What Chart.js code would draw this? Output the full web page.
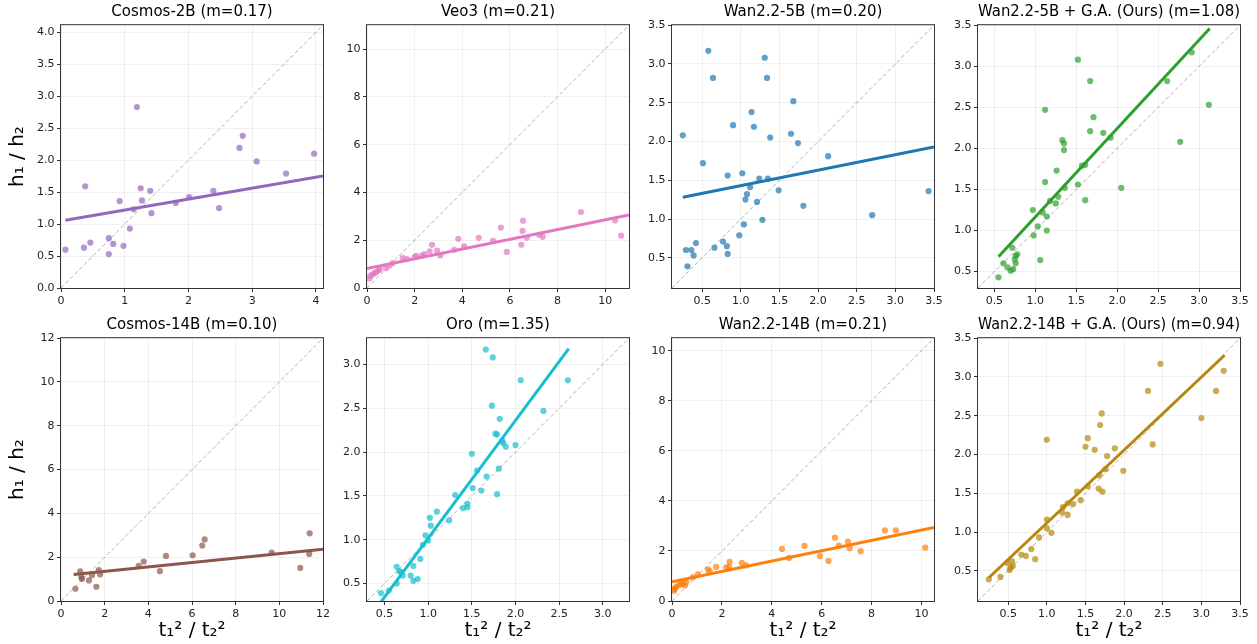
<!DOCTYPE html>
<html>
<head>
<meta charset="utf-8">
<script src="https://cdn.jsdelivr.net/npm/chart.js@4.4.0/dist/chart.umd.min.js"></script>
<style>
  body { margin: 0; background: #fff; width: 1257px; height: 644px; position: relative; overflow: hidden; }
  canvas { position: absolute; }
</style>
</head>
<body>
<script>
// ---- data: t1^2/t2^2 (x) vs h1/h2 (y) ----
const cosmos2bX = [0.07,0.36,0.38,0.46,0.75,0.75,0.82,0.92,0.98,1.08,1.14,1.19,1.25,1.27,1.40,1.42,1.80,2.01,2.39,2.48,2.80,2.85,3.07,3.53,3.97];
const cosmos2bY = [0.60,0.63,1.59,0.71,0.78,0.53,0.69,1.36,0.66,0.93,1.23,2.83,1.56,1.37,1.52,1.17,1.33,1.42,1.52,1.25,2.19,2.38,1.98,1.79,2.10];

const veo3X = [0.11,0.14,0.24,0.32,0.39,0.49,0.53,0.80,0.94,1.08,1.50,1.68,2.00,2.07,2.31,2.41,2.63,2.73,2.94,3.08,3.66,3.83,4.08,4.69,5.29,5.62,5.87,6.48,6.53,6.55,6.71,7.23,7.38,8.98,10.42,10.67];
const veo3Y = [0.40,0.52,0.56,0.63,0.67,0.74,0.79,0.83,0.94,1.04,1.26,1.21,1.29,1.35,1.36,1.42,1.53,1.81,1.57,1.36,1.60,2.06,1.74,2.10,1.97,2.53,1.51,1.81,2.39,2.82,2.10,2.22,2.14,3.18,2.83,2.19];

const wan5bX = [0.25,0.29,0.31,0.36,0.39,0.42,0.51,0.58,0.64,0.66,0.77,0.82,0.83,0.83,0.90,0.98,1.02,1.04,1.06,1.08,1.12,1.14,1.17,1.21,1.24,1.28,1.31,1.34,1.35,1.38,1.49,1.65,1.68,1.74,1.81,2.13,2.70,3.43];
const wan5bY = [2.08,0.60,0.39,0.60,0.53,0.69,1.72,3.17,2.82,0.63,0.71,0.65,0.55,1.56,2.21,0.79,1.59,0.93,1.25,1.32,1.41,2.38,2.19,1.22,1.52,0.99,3.08,2.82,1.52,2.05,1.37,2.10,2.52,1.98,1.17,1.81,1.05,1.36];

const wan5bGaX = [0.55,0.61,0.66,0.70,0.72,0.73,0.75,0.76,0.76,0.78,0.97,0.98,1.03,1.06,1.09,1.12,1.12,1.14,1.14,1.18,1.25,1.26,1.28,1.33,1.35,1.35,1.36,1.52,1.52,1.57,1.61,1.61,1.67,1.67,1.71,1.83,1.92,2.05,2.61,2.77,2.91,3.12];
const wan5bGaY = [0.43,0.60,0.55,0.51,0.79,0.53,0.65,0.60,0.69,0.71,1.25,0.94,1.05,0.64,1.22,2.47,1.59,1.17,1.00,1.36,1.33,1.73,1.41,2.10,2.06,1.98,1.52,1.56,3.08,1.79,1.80,1.37,2.82,2.21,2.38,2.19,2.13,1.52,2.82,2.08,3.17,2.53];

const cosmos14bX = [0.66,0.88,0.93,0.96,1.28,1.42,1.62,1.73,1.79,3.56,3.79,4.53,4.81,6.03,6.47,6.58,9.65,10.96,11.39,11.37];
const cosmos14bY = [0.56,1.35,1.10,1.01,0.94,1.18,0.65,1.41,1.21,1.60,1.80,1.36,2.06,2.09,2.53,2.81,2.21,1.51,3.09,2.15];

const oroX = [0.46,0.55,0.64,0.64,0.67,0.69,0.71,0.80,0.83,0.83,0.88,0.91,0.94,0.97,1.00,1.02,1.03,1.10,1.24,1.31,1.40,1.45,1.45,1.50,1.51,1.56,1.61,1.66,1.67,1.73,1.74,1.77,1.79,1.79,1.81,1.82,1.85,1.86,1.89,2.00,2.06,2.32,2.60];
const oroY = [0.39,0.42,0.50,0.69,0.64,0.63,0.59,0.59,0.70,0.53,0.55,0.78,0.94,1.05,0.99,1.25,1.16,1.32,1.22,1.51,1.36,1.37,1.41,1.98,1.59,1.79,1.56,3.17,1.72,2.53,3.08,2.21,2.20,1.52,1.81,2.38,2.13,2.10,2.06,2.08,2.82,2.47,2.82];

const wan14bX = [0.08,0.09,0.12,0.17,0.28,0.37,0.44,0.51,0.57,0.84,1.04,1.44,1.51,1.77,2.17,2.29,2.31,2.80,2.97,4.41,4.69,5.31,5.93,6.27,6.53,6.68,7.05,7.12,7.56,8.53,8.97,10.15];
const wan14bY = [0.40,0.48,0.50,0.57,0.64,0.70,0.68,0.62,0.77,0.95,1.06,1.26,1.19,1.36,1.34,1.36,1.56,1.52,1.42,2.08,1.72,2.20,1.79,1.60,2.53,2.21,2.37,2.11,1.99,2.82,2.82,2.13];

const wan14bGaX = [0.25,0.40,0.49,0.52,0.53,0.55,0.56,0.67,0.73,0.80,0.85,0.90,1.00,1.00,1.00,1.06,1.20,1.21,1.27,1.27,1.34,1.39,1.44,1.50,1.53,1.53,1.62,1.67,1.68,1.69,1.71,1.72,1.76,1.78,1.88,1.99,2.31,2.37,2.47,3.00,3.19,3.29];
const wan14bGaY = [0.39,0.42,0.60,0.51,0.54,0.62,0.56,0.71,0.69,0.78,0.65,0.93,2.19,1.16,1.05,0.99,1.25,1.32,1.22,1.37,1.36,1.52,1.41,2.10,2.21,1.59,2.06,1.56,1.73,2.38,2.53,1.52,1.81,1.98,2.08,1.79,2.82,2.13,3.17,2.47,2.82,3.08];

// fitted lines, [x0, y0, x1, y1] as drawn
const fitLines = [
  [0.07, 1.06, 4.11, 1.75],
  [0.00, 0.81, 11.0, 3.06],
  [0.25, 1.28, 3.50, 1.93],
  [0.55, 0.68, 3.13, 3.46],
  [0.58, 1.21, 12.0, 2.36],
  [0.46, 0.29, 2.61, 3.18],
  [0.00, 0.77, 10.5, 2.94],
  [0.25, 0.41, 3.30, 3.28]
];

const titles = [
  'Cosmos-2B (m=0.17)', 'Veo3 (m=0.21)', 'Wan2.2-5B (m=0.20)', 'Wan2.2-5B + G.A. (Ours) (m=1.08)',
  'Cosmos-14B (m=0.10)', 'Oro (m=1.35)', 'Wan2.2-14B (m=0.21)', 'Wan2.2-14B + G.A. (Ours) (m=0.94)'
];

// same range on both axes
const axisRange = [[0, 4.11], [0, 11.0], [0.11, 3.5], [0.30, 3.5], [0, 12], [0.30, 3.30], [0, 10.5], [0.11, 3.5]];

const ticks0to4 = ['0', '1', '2', '3', '4'];
const ticks0to4half = ['0.0', '0.5', '1.0', '1.5', '2.0', '2.5', '3.0', '3.5', '4.0'];
const ticksEven10 = ['0', '2', '4', '6', '8', '10'];
const ticksEven12 = ['0', '2', '4', '6', '8', '10', '12'];
const ticksHalf35 = ['0.5', '1.0', '1.5', '2.0', '2.5', '3.0', '3.5'];
const ticksHalf30 = ['0.5', '1.0', '1.5', '2.0', '2.5', '3.0'];

const xTickLabels = [ticks0to4, ticksEven10, ticksHalf35, ticksHalf35, ticksEven12, ticksHalf30, ticksEven10, ticksHalf35];
const yTickLabels = [ticks0to4half, ticksEven10, ticksHalf35, ticksHalf35, ticksEven12, ticksHalf30, ticksEven10, ticksHalf35];

const seriesX = [cosmos2bX, veo3X, wan5bX, wan5bGaX, cosmos14bX, oroX, wan14bX, wan14bGaX];
const seriesY = [cosmos2bY, veo3Y, wan5bY, wan5bGaY, cosmos14bY, oroY, wan14bY, wan14bGaY];

// tab10-ish colours (rgb)
const colors = ['148,103,189', '227,119,194', '31,119,180', '44,160,44', '140,86,75', '23,190,207', '255,127,14', '184,134,11'];

// ---- layout ----
Chart.defaults.font.family = "'DejaVu Sans', sans-serif";
const colLeft = [61, 367, 672, 978];
const rowTop = [24, 337];
const plotW = 262, plotH = 264;
const titleH = 24, padR = 14;

// matplotlib-like box around the axes
const framePlugin = {
  id: 'frame',
  afterDatasetsDraw(chart) {
    const { ctx, chartArea: a } = chart;
    ctx.save();
    ctx.strokeStyle = '#333';
    ctx.lineWidth = 1;
    ctx.strokeRect(a.left - 0.5, a.top - 0.5, a.right - a.left + 1, a.bottom - a.top + 1);
    ctx.restore();
  }
};

titles.forEach((title, i) => {
  const c = i % 4, r = Math.floor(i / 4);
  const yw = c == 0 ? 61 : 45;
  const xh = r == 1 ? 43 : 22;
  const range = axisRange[i];
  const xt = xTickLabels[i], yt = yTickLabels[i];
  const col = colors[i];

  const canvas = document.createElement('canvas');
  canvas.width = yw + plotW + padR;
  canvas.height = titleH + plotH + xh;
  canvas.style.left = (colLeft[c] - yw) + 'px';
  canvas.style.top = (rowTop[r] - titleH) + 'px';
  document.body.appendChild(canvas);

  const fl = fitLines[i];
  const points = seriesX[i].map((x, k) => ({ x: x, y: seriesY[i][k] }));

  new Chart(canvas.getContext('2d'), {
    type: 'scatter',
    data: {
      datasets: [
        { // fit line (first = drawn on top)
          data: [{ x: fl[0], y: fl[1] }, { x: fl[2], y: fl[3] }],
          showLine: true, borderColor: 'rgb(' + col + ')', borderWidth: 3,
          pointRadius: 0, clip: 0
        },
        {
          data: points,
          pointRadius: 3.1, borderWidth: 0,
          backgroundColor: 'rgba(' + col + ',0.7)', clip: 0
        },
        { // y = x reference
          data: [{ x: range[0], y: range[0] }, { x: range[1], y: range[1] }],
          showLine: true, borderColor: 'rgba(0,0,0,0.3)', borderWidth: 1,
          borderDash: [4, 2.5], pointRadius: 0, clip: 0
        }
      ]
    },
    options: {
      responsive: false,
      animation: false,
      layout: { padding: { left: 0, right: padR, top: 0, bottom: 0 } },
      plugins: {
        legend: { display: false },
        tooltip: { enabled: false },
        title: {
          display: true, text: title, color: '#000', fullSize: false,
          font: { size: 15, weight: 'normal', lineHeight: 1.2 },
          padding: { top: 3.6, bottom: 3.6 }
        }
      },
      scales: {
        x: {
          type: 'linear', min: range[0], max: range[1],
          afterBuildTicks: s => { s.ticks = xt.map(t => ({ value: parseFloat(t) })); },
          afterFit: s => { s.height = xh; s.paddingLeft = 0; s.paddingRight = 0; },
          ticks: { autoSkip: false, maxRotation: 0, padding: 2.5, color: '#222', font: { size: 11 },
                   callback: (v, k) => xt[k] },
          grid: { color: 'rgba(0,0,0,0.08)', lineWidth: 0.8, tickColor: '#333', tickWidth: 1, tickLength: 4 },
          border: { display: false },
          title: { display: r == 1, text: 't₁² / t₂²', color: '#000', font: { size: 20 }, padding: { top: 0, bottom: 1 } }
        },
        y: {
          type: 'linear', min: range[0], max: range[1],
          afterBuildTicks: s => { s.ticks = yt.map(t => ({ value: parseFloat(t) })); },
          afterFit: s => { s.width = yw; s.paddingTop = 0; s.paddingBottom = 0; },
          ticks: { autoSkip: false, padding: 2.5, color: '#222', font: { size: 11 },
                   callback: (v, k) => yt[k] },
          grid: { color: 'rgba(0,0,0,0.08)', lineWidth: 0.8, tickColor: '#333', tickWidth: 1, tickLength: 4 },
          border: { display: false },
          title: { display: c == 0, text: 'h₁ / h₂', color: '#000', font: { size: 20 }, padding: { top: 6, bottom: 0 } }
        }
      }
    },
    plugins: [framePlugin]
  });
});
</script>
</body>
</html>
